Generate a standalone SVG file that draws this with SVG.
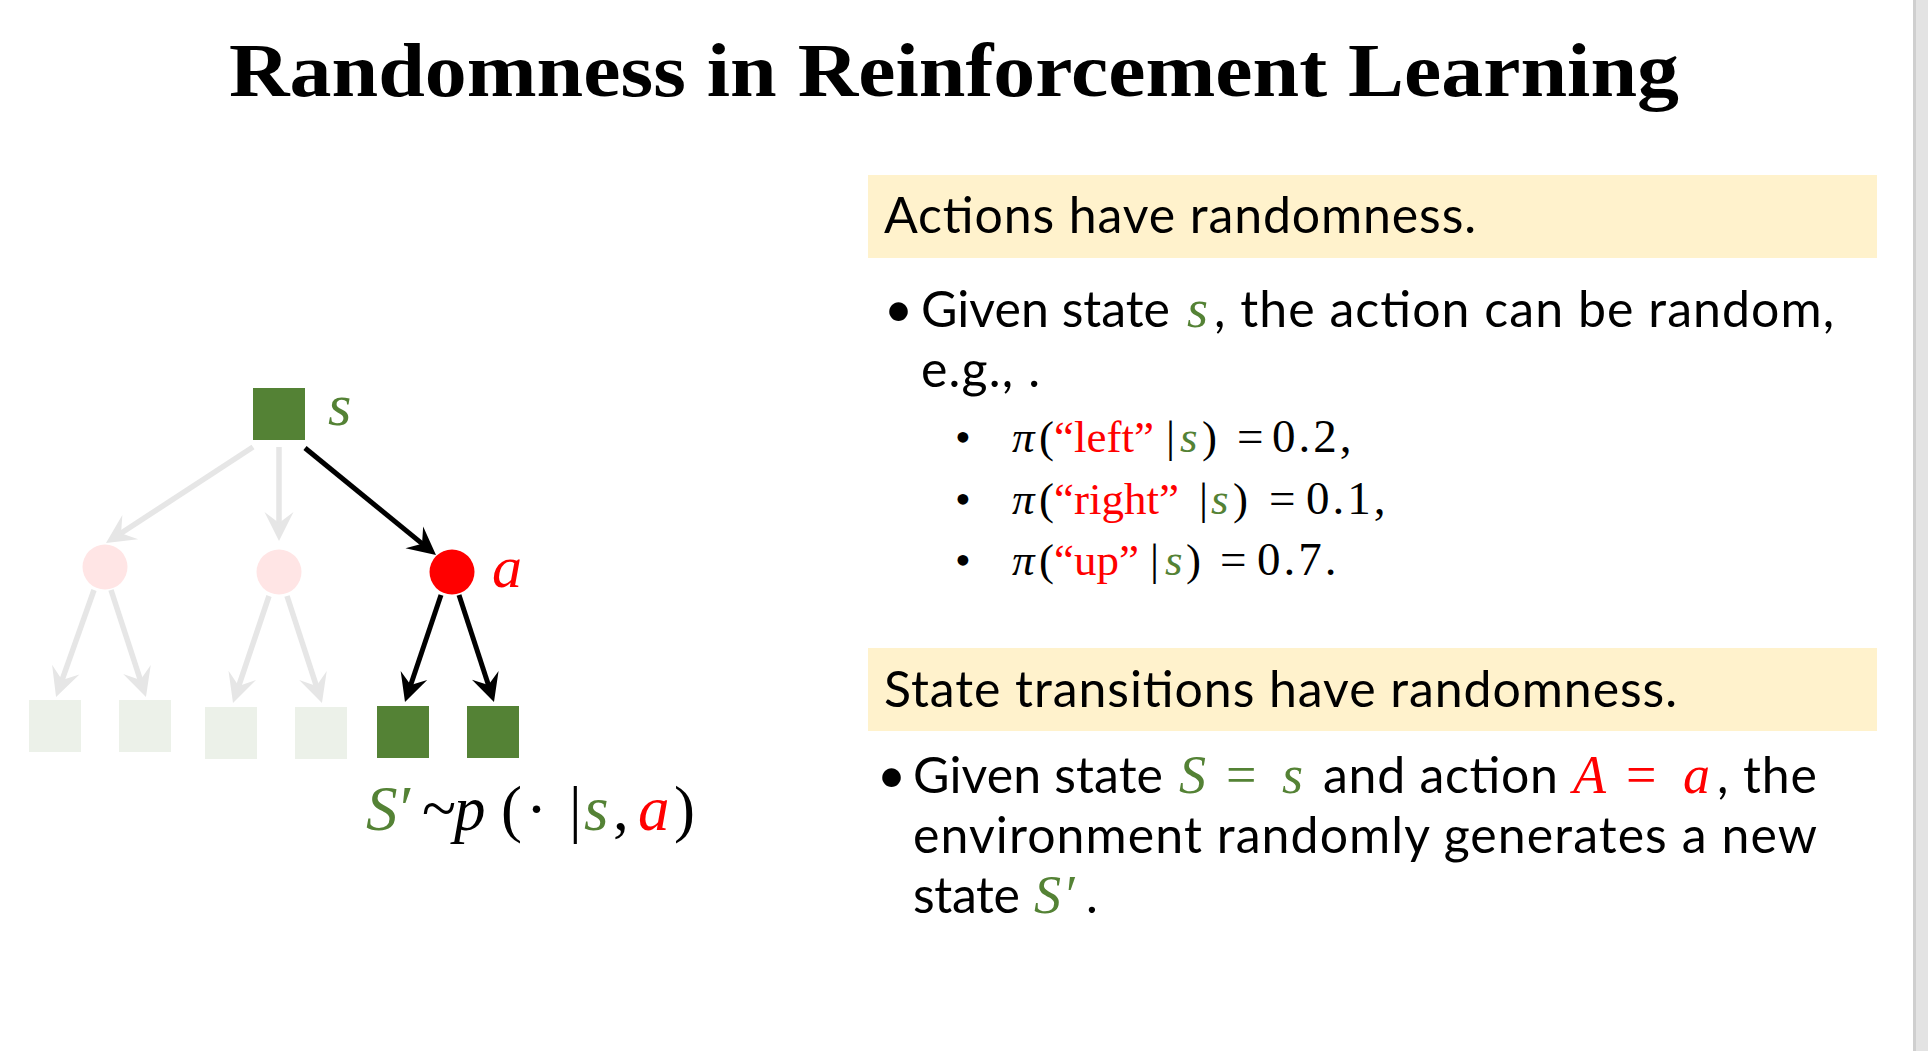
<svg xmlns="http://www.w3.org/2000/svg" width="1928" height="1051" viewBox="0 0 1928 1051">
<style>
.sq{fill:#548235}
.sqf{fill:#ecf1e9}
.cf{fill:#ffe5e5}
.cr{fill:#ff0000}
.eb{stroke:#000;stroke-width:5;fill:none}
.eg{stroke:#e6e6e6;stroke-width:5.5;fill:none}
.sans{font-family:Lato,"Liberation Sans",sans-serif;font-size:50px;fill:#000}
.m{font-family:"Liberation Serif","DejaVu Serif",serif;fill:#000}
.i{font-style:italic}
.g{fill:#548235}
.r{fill:#ff0000}
.num{font-size:47px;letter-spacing:3px}
</style>
<defs>
<marker id="ab" markerUnits="userSpaceOnUse" orient="auto" markerWidth="40" markerHeight="40" refX="0" refY="0" viewBox="-20 -20 40 40" overflow="visible">
<path d="M16,0 L-12,-14 L-2,0 L-12,14 Z" fill="#000"/>
</marker>
<marker id="ag" markerUnits="userSpaceOnUse" orient="auto" markerWidth="40" markerHeight="40" refX="0" refY="0" viewBox="-20 -20 40 40" overflow="visible">
<path d="M16,0 L-13,-14.5 L-2,0 L-13,14.5 Z" fill="#e6e6e6"/>
</marker>
</defs>
<rect width="1928" height="1051" fill="#fff"/>
<rect x="1913" y="0" width="15" height="1051" fill="#e3e3e3"/>
<rect x="1913" y="0" width="3" height="1051" fill="#cfcfcf"/>

<g id="title">
<text x="229" y="96" font-family="'Liberation Serif',serif" font-weight="bold" font-size="76" textLength="1450" lengthAdjust="spacingAndGlyphs">Randomness in Reinforcement Learning</text>
</g>

<g id="connectors">
<line class="eg" x1="253" y1="447" x2="119.4" y2="534.3" marker-end="url(#ag)"/>
<line class="eg" x1="279" y1="447" x2="279" y2="525" marker-end="url(#ag)"/>
<line class="eg" x1="94" y1="590" x2="61.4" y2="681.9" marker-end="url(#ag)"/>
<line class="eg" x1="111" y1="590" x2="141" y2="681.8" marker-end="url(#ag)"/>
<line class="eg" x1="269" y1="596" x2="238.1" y2="687.8" marker-end="url(#ag)"/>
<line class="eg" x1="287" y1="596" x2="317" y2="687.8" marker-end="url(#ag)"/>
<line class="eb" x1="305" y1="448" x2="423.6" y2="544.9" marker-end="url(#ab)"/>
<line class="eb" x1="441" y1="595" x2="410.1" y2="686.8" marker-end="url(#ab)"/>
<line class="eb" x1="459" y1="595" x2="489" y2="686.8" marker-end="url(#ab)"/>
</g>

<g id="node-s">
<rect class="sq" x="253" y="388" width="52" height="52"/>
<text class="m i g" x="328" y="425" font-size="60">s</text>
</g>
<g id="node-c1"><circle class="cf" cx="105" cy="567" r="22.5"/></g>
<g id="node-c2"><circle class="cf" cx="279" cy="572" r="22.5"/></g>
<g id="node-a">
<circle class="cr" cx="452" cy="572" r="22.5"/>
<text class="m i r" x="492" y="587" font-size="60">a</text>
</g>
<g id="node-q1"><rect class="sqf" x="29" y="700" width="52" height="52"/></g>
<g id="node-q2"><rect class="sqf" x="119" y="700" width="52" height="52"/></g>
<g id="node-q3"><rect class="sqf" x="205" y="707" width="52" height="52"/></g>
<g id="node-q4"><rect class="sqf" x="295" y="707" width="52" height="52"/></g>
<g id="node-q5"><rect class="sq" x="377" y="706" width="52" height="52"/></g>
<g id="node-q6"><rect class="sq" x="467" y="706" width="52" height="52"/></g>

<g id="formula" class="m" font-size="63">
<text y="830"><tspan x="366" class="i g">S</tspan><tspan x="400" class="g">′</tspan><tspan x="422">~</tspan><tspan x="454" class="i">p</tspan><tspan x="501">(</tspan><tspan x="526">·</tspan><tspan x="569">|</tspan><tspan x="584" class="i g">s</tspan><tspan x="613">,</tspan><tspan x="638" class="i r">a</tspan><tspan x="674">)</tspan></text>
</g>

<g id="box-actions">
<rect x="868" y="175" width="1009" height="83" fill="#fff2cc"/>
<text class="sans" x="884" y="233" textLength="592" lengthAdjust="spacing">Actions have randomness.</text>
</g>

<g id="bullet-actions">
<text class="sans" x="884" y="327">•</text>
<text class="sans" x="921" y="327" textLength="249" lengthAdjust="spacing">Given state</text>
<text class="m i g" x="1187" y="327" font-size="54">s</text>
<text class="sans" x="1214" y="327" textLength="620" lengthAdjust="spacing">, the action can be random,</text>
<text class="sans" x="921" y="387" textLength="119" lengthAdjust="spacing">e.g., .</text>

<g class="m" font-size="45">
<text x="955" y="452">•</text>
<text y="452"><tspan x="1012" class="i">π</tspan><tspan x="1039">(</tspan><tspan x="1054" class="r">“left”</tspan><tspan x="1166">|</tspan><tspan x="1180" class="i g">s</tspan><tspan x="1202">)</tspan><tspan x="1237" class="num">=</tspan><tspan x="1272" class="num">0.2,</tspan></text>
<text x="955" y="514">•</text>
<text y="514"><tspan x="1012" class="i">π</tspan><tspan x="1039">(</tspan><tspan x="1054" class="r">“right”</tspan><tspan x="1199">|</tspan><tspan x="1211" class="i g">s</tspan><tspan x="1233">)</tspan><tspan x="1269" class="num">=</tspan><tspan x="1306" class="num">0.1,</tspan></text>
<text x="955" y="575">•</text>
<text y="575"><tspan x="1012" class="i">π</tspan><tspan x="1039">(</tspan><tspan x="1054" class="r">“up”</tspan><tspan x="1150">|</tspan><tspan x="1165" class="i g">s</tspan><tspan x="1186">)</tspan><tspan x="1220" class="num">=</tspan><tspan x="1257" class="num">0.7.</tspan></text>
</g>
</g>

<g id="box-transitions">
<rect x="868" y="648" width="1009" height="83" fill="#fff2cc"/>
<text class="sans" x="884" y="707" textLength="793" lengthAdjust="spacing">State transitions have randomness.</text>
</g>

<g id="bullet-transitions">
<text class="sans" x="877" y="793">•</text>
<text class="sans" x="913" y="793" textLength="250" lengthAdjust="spacing">Given state</text>
<text class="m g" y="793" font-size="54"><tspan x="1179" class="i">S</tspan><tspan x="1226">=</tspan><tspan x="1282" class="i">s</tspan></text>
<text class="sans" x="1323" y="793" textLength="235" lengthAdjust="spacing">and action</text>
<text class="m r" y="793" font-size="54"><tspan x="1573" class="i">A</tspan><tspan x="1626">=</tspan><tspan x="1683" class="i">a</tspan></text>
<text class="sans" x="1717" y="793" textLength="100" lengthAdjust="spacing">, the</text>
<text class="sans" x="913" y="853" textLength="904" lengthAdjust="spacing">environment randomly generates a new</text>
<text class="sans" x="913" y="913" textLength="107" lengthAdjust="spacing">state</text>
<text class="m g" y="913" font-size="54"><tspan x="1034" class="i">S</tspan><tspan x="1066">′</tspan></text>
<text class="sans" x="1086" y="913">.</text>
</g>
</svg>
